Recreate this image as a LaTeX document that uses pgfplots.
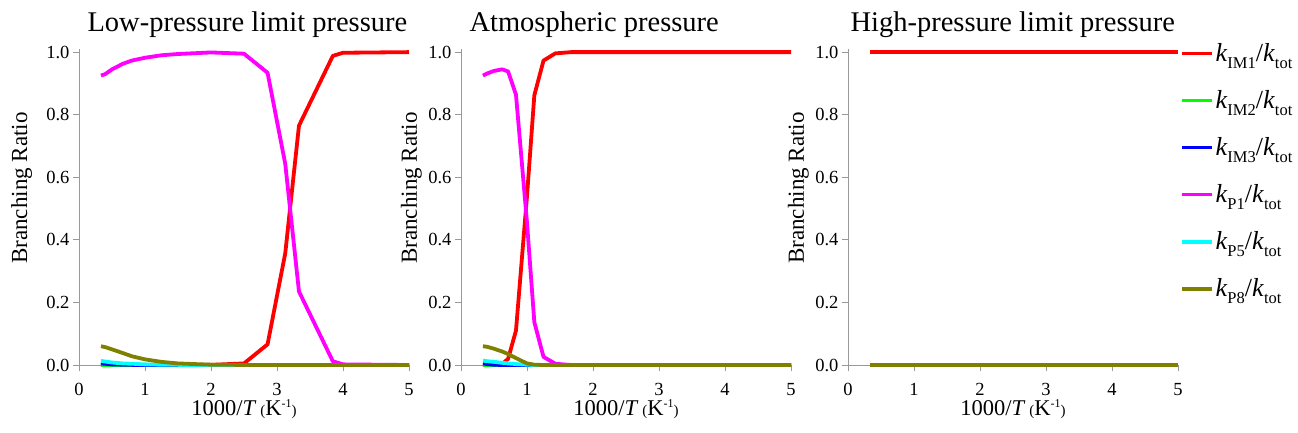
\documentclass[border=0pt]{standalone}
\usepackage{fontspec}
\setmainfont{Liberation Serif}
\usepackage{pgfplots}
\usepackage{pgfplotstable}
\pgfplotsset{compat=1.18}
\usetikzlibrary{calc}

\definecolor{cIMa}{RGB}{255,0,0}
\definecolor{cIMb}{RGB}{0,255,0}
\definecolor{cIMc}{RGB}{0,0,255}
\definecolor{cPa}{RGB}{255,0,255}
\definecolor{cPe}{RGB}{0,255,255}
\definecolor{cPh}{RGB}{128,128,0}

\newcommand{\kk}[1]{\textit{k}\raisebox{-0.55ex}{\fontsize{16.5}{16.5}\selectfont #1}}

% low-pressure limit
\pgfplotstableread{
x     IMa    IMb  IMc    Pa     Pe     Ph
0.333 0      0    0.005  0.925  0.013  0.060
0.4   0      0    0.004  0.930  0.011  0.057
0.5   0      0    0.002  0.945  0.008  0.050
0.667 0      0    0.001  0.963  0.005  0.038
0.8   0      0    0.0005 0.973  0.004  0.028
1.0   0      0    0      0.982  0.002  0.018
1.25  0      0    0      0.990  0.001  0.010
1.5   0      0    0      0.994  0.0005 0.005
2.0   0.0005 0    0      0.999  0      0.001
2.5   0.005  0    0      0.995  0      0.0003
2.857 0.066  0    0      0.934  0      0
3.125 0.357  0    0      0.643  0      0
3.333 0.765  0    0      0.235  0      0
3.846 0.988  0    0      0.012  0      0
4.0   0.998  0    0      0.002  0      0
5.0   1.0    0    0      0      0      0
}\lowp

% atmospheric
\pgfplotstableread{
x     IMa    IMb  IMc    Pa     Pe     Ph
0.333 0      0    0.005  0.925  0.014  0.060
0.4   0      0    0.003  0.932  0.012  0.058
0.5   0      0    0.001  0.940  0.010  0.052
0.625 0.003  0    0      0.945  0.007  0.043
0.714 0.020  0    0      0.938  0.005  0.035
0.833 0.110  0    0      0.864  0.003  0.022
1.0   0.540  0    0      0.455  0.001  0.005
1.111 0.862  0    0      0.137  0      0.001
1.25  0.973  0    0      0.026  0      0
1.429 0.996  0    0      0.004  0      0
1.667 1.0    0    0      0      0      0
2.0   1.0    0    0      0      0      0
3.0   1.0    0    0      0      0      0
5.0   1.0    0    0      0      0      0
}\atmp

% high-pressure limit
\pgfplotstableread{
x     IMa    IMb  IMc    Pa     Pe     Ph
0.333 1.0    0    0      0      0      0
5.0   1.0    0    0      0      0      0
}\highp

\pgfplotsset{
  br/.style={
    scale only axis, width=330pt, height=316pt,
    xmin=0, xmax=5, ymin=0, ymax=1.01,
    clip=false,
    axis x line*=bottom, axis y line*=left,
    axis line style={draw=black!40, line width=0.8pt},
    tick style={draw=black!40, line width=0.8pt},
    tick align=outside, major tick length=6pt,
    xtick={0,1,...,5}, ytick={0,0.2,...,1.0},
    /pgf/number format/assume math mode=true,
    yticklabel style={/pgf/number format/fixed, /pgf/number format/fixed zerofill, /pgf/number format/precision=1},
    ticklabel style={font=\fontsize{18.5}{18.5}\selectfont},
    xticklabel style={inner sep=0pt, yshift=-12pt},
    ylabel={Branching Ratio},
    xlabel={1000/\textit{T}\,{\fontsize{15}{15}\selectfont(}K\raisebox{0.75ex}{\fontsize{12}{12}\selectfont -1}{\fontsize{15}{15}\selectfont)}},
    xlabel style={font=\fontsize{22.5}{22.5}\selectfont, inner sep=0pt, at={(axis description cs:0.5,0)}, anchor=base, yshift=-50pt},
    ylabel style={font=\fontsize{23}{23}\selectfont, at={(axis description cs:-0.134,0.56)}, anchor=base, rotate=0},
    title style={font=\fontsize{28.5}{28.5}\selectfont, at={(0,1)}, anchor=base west, yshift=12pt},
    every axis plot/.append style={line width=3.8pt, no markers, line join=round},
    legend image code/.code={\draw[#1] (0pt,0pt) -- (30pt,0pt);},
  },
}

\begin{document}
\begin{tikzpicture}
\begin{axis}[br, name=a1, title={Low-pressure limit pressure}, title style={xshift=5pt},
  ylabel style={at={(axis description cs:-0.157,0.56)}}]
\addplot[cIMa] table[x=x,y=IMa] {\lowp};
\addplot[cIMb] table[x=x,y=IMb] {\lowp};
\addplot[cIMc] table[x=x,y=IMc] {\lowp};
\addplot[cPa] table[x=x,y=Pa] {\lowp};
\addplot[cPe] table[x=x,y=Pe] {\lowp};
\addplot[cPh] table[x=x,y=Ph] {\lowp};
\end{axis}
\begin{axis}[br, at={(382pt,0)}, title={Atmospheric pressure}, title style={xshift=5pt}]
\addplot[cIMa] table[x=x,y=IMa] {\atmp};
\addplot[cIMb] table[x=x,y=IMb] {\atmp};
\addplot[cIMc] table[x=x,y=IMc] {\atmp};
\addplot[cPa] table[x=x,y=Pa] {\atmp};
\addplot[cPe] table[x=x,y=Pe] {\atmp};
\addplot[cPh] table[x=x,y=Ph] {\atmp};
\end{axis}
\begin{axis}[br, name=a3, at={(769pt,0)}, title={High-pressure limit pressure}, title style={xshift=-1pt},
  legend style={at={(1,1)}, anchor=north west, xshift=2pt, yshift=7pt, draw=none, fill=none,
    font=\fontsize{26}{26}\selectfont, row sep=24.5pt, inner sep=0pt,
    nodes={inner sep=1.5pt}},
  legend cell align=left]
\addplot[cIMa] table[x=x,y=IMa] {\highp};
\addplot[cIMb] table[x=x,y=IMb] {\highp};
\addplot[cIMc] table[x=x,y=IMc] {\highp};
\addplot[cPa] table[x=x,y=Pa] {\highp};
\addplot[cPe] table[x=x,y=Pe] {\highp};
\addplot[cPh] table[x=x,y=Ph] {\highp};
\legend{\kk{IM1}/\kk{tot}, \kk{IM2}/\kk{tot}, \kk{IM3}/\kk{tot}, \kk{P1}/\kk{tot}, \kk{P5}/\kk{tot}, \kk{P8}/\kk{tot}}
\end{axis}
% page margins as in the reference
\path ($(a1.south west)+(-79pt,-67pt)$) ($(a1.north west)+(0,49pt)$) ($(a3.south east)+(120pt,0)$);
\end{tikzpicture}
\end{document}
